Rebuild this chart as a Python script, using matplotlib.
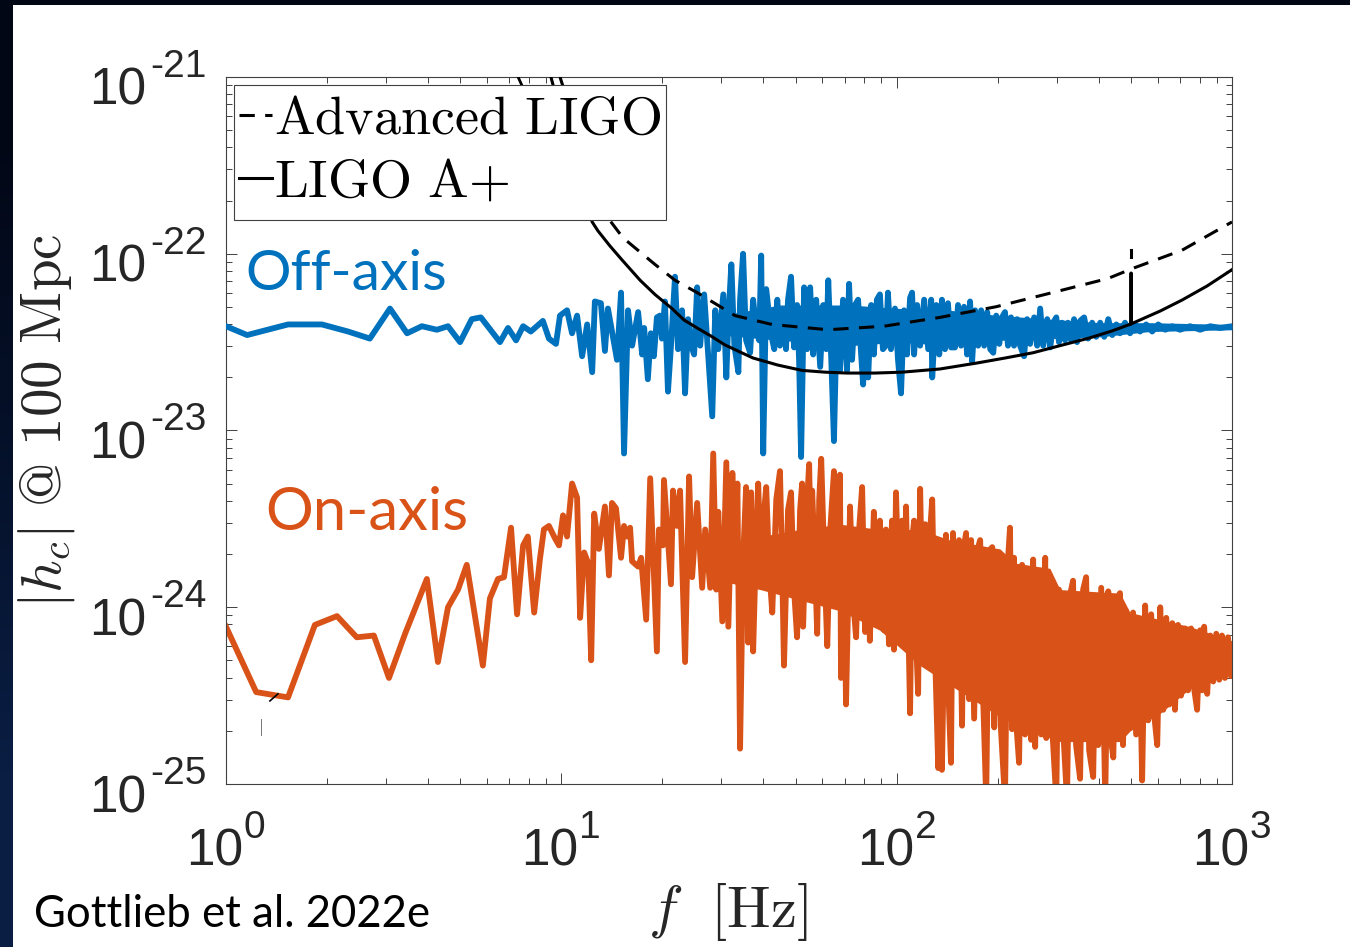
import matplotlib
matplotlib.use('Agg')
import matplotlib.pyplot as plt
from matplotlib.lines import Line2D
from matplotlib.patches import Rectangle
from matplotlib.ticker import LogLocator, NullFormatter
import numpy as np

# everything below is log10(f [Hz]) and log10(|h_c|)
off_logf = [
    0.000, 0.063, 0.185, 0.286, 0.364, 0.429, 0.489, 0.540, 0.584, 0.629,
    0.662, 0.698, 0.733, 0.760, 0.817, 0.841, 0.865, 0.886, 0.909, 0.945,
    0.963, 0.984, 0.996, 1.017, 1.032, 1.047, 1.062, 1.077, 1.092, 1.100,
    1.118, 1.130, 1.139, 1.166, 1.178, 1.187, 1.199, 1.211, 1.229, 1.241,
    1.247, 1.258, 1.267, 1.276, 1.285, 1.294, 1.300, 1.309, 1.318, 1.327,
    1.339, 1.348, 1.360, 1.369, 1.378, 1.387, 1.396, 1.405, 1.414, 1.426,
    1.435, 1.450, 1.459, 1.468, 1.483, 1.492, 1.498, 1.507, 1.516, 1.528,
    1.533, 1.542, 1.551, 1.563, 1.572, 1.581, 1.590, 1.596, 1.602, 1.611,
    1.626, 1.635, 1.644, 1.652, 1.661, 1.670, 1.676, 1.685, 1.694, 1.703,
    1.709, 1.715, 1.724, 1.733, 1.742, 1.751, 1.760, 1.772, 1.781, 1.790,
    1.796, 1.805, 1.813, 1.822, 1.831, 1.840, 1.852, 1.858, 1.867, 1.876,
    1.885, 1.894, 1.900, 1.909, 1.915, 1.924, 1.932, 1.941, 1.950, 1.959,
    1.968, 1.974, 1.983, 1.995, 2.004, 2.013, 2.022, 2.031, 2.040, 2.046,
    2.052, 2.061, 2.070, 2.082, 2.094, 2.103, 2.106, 2.118, 2.127, 2.135,
    2.144, 2.153, 2.162, 2.174, 2.183, 2.192, 2.201, 2.210, 2.219, 2.225,
    2.234, 2.243, 2.252, 2.261, 2.270, 2.279, 2.288, 2.297, 2.306, 2.314,
    2.323, 2.332, 2.341, 2.350, 2.359, 2.368, 2.380, 2.389, 2.398, 2.410,
    2.419, 2.428, 2.437, 2.449, 2.458, 2.467, 2.476, 2.484, 2.493, 2.502,
    2.511, 2.520, 2.529, 2.538, 2.547, 2.559, 2.571, 2.583, 2.595, 2.607,
    2.619, 2.631, 2.643, 2.655, 2.666, 2.681, 2.696, 2.711, 2.726, 2.744,
    2.762, 2.780, 2.801, 2.822, 2.845, 2.875, 2.905, 2.935, 2.964, 3.000,
]
off_logh = [
    -22.41, -22.46, -22.40, -22.40, -22.44, -22.48, -22.31, -22.45, -22.41, -22.43,
    -22.41, -22.50, -22.37, -22.36, -22.50, -22.42, -22.49, -22.41, -22.44, -22.38,
    -22.48, -22.51, -22.35, -22.32, -22.45, -22.35, -22.58, -22.40, -22.67, -22.27,
    -22.28, -22.55, -22.31, -22.60, -22.22, -23.13, -22.32, -22.52, -22.33, -22.57,
    -22.42, -22.71, -22.45, -22.58, -22.36, -22.35, -22.48, -22.27, -22.78, -22.52,
    -22.13, -22.54, -22.32, -22.79, -22.37, -22.52, -22.57, -22.19, -22.52, -22.23,
    -22.49, -22.92, -22.32, -22.54, -22.23, -22.70, -22.37, -22.06, -22.52, -22.67,
    -22.26, -22.00, -22.49, -22.56, -22.26, -22.43, -22.49, -22.01, -23.13, -22.20,
    -22.46, -22.54, -22.26, -22.52, -22.32, -22.54, -22.26, -22.13, -22.53, -22.29,
    -22.60, -23.15, -22.19, -22.54, -22.19, -22.57, -22.26, -22.64, -22.29, -22.54,
    -22.15, -22.60, -23.06, -22.32, -22.66, -22.26, -22.66, -22.17, -22.60, -22.29,
    -22.26, -22.57, -22.74, -22.32, -22.70, -22.29, -22.57, -22.26, -22.23, -22.54,
    -22.52, -22.22, -22.54, -22.31, -22.60, -22.79, -22.32, -22.57, -22.25, -22.22,
    -22.57, -22.29, -22.52, -22.26, -22.54, -22.26, -22.70, -22.29, -22.57, -22.26,
    -22.54, -22.28, -22.53, -22.53, -22.29, -22.52, -22.30, -22.57, -22.27, -22.61,
    -22.32, -22.52, -22.32, -22.52, -22.33, -22.54, -22.56, -22.35, -22.51, -22.36,
    -22.33, -22.52, -22.36, -22.52, -22.37, -22.52, -22.58, -22.37, -22.51, -22.36,
    -22.52, -22.31, -22.52, -22.37, -22.53, -22.39, -22.36, -22.50, -22.39, -22.49,
    -22.39, -22.49, -22.37, -22.50, -22.38, -22.36, -22.48, -22.39, -22.47, -22.39,
    -22.47, -22.37, -22.46, -22.40, -22.45, -22.39, -22.45, -22.40, -22.44, -22.40,
    -22.44, -22.40, -22.43, -22.41, -22.43, -22.41, -22.43, -22.41, -22.42, -22.41,
]
# where the blue samples are too dense to tell apart
off_band_logf = [1.473, 1.652, 1.861, 2.010, 2.159, 2.308, 2.457, 2.607, 2.755, 3.000]
off_band_hi = [-22.35, -22.29, -22.29, -22.31, -22.32, -22.35, -22.37, -22.39, -22.39, -22.40]
off_band_lo = [-22.46, -22.49, -22.52, -22.50, -22.52, -22.49, -22.48, -22.47, -22.44, -22.43]

on_logf = [
    0.000, 0.090, 0.185, 0.265, 0.331, 0.390, 0.441, 0.486, 0.534, 0.599,
    0.632, 0.662, 0.692, 0.718, 0.766, 0.787, 0.811, 0.829, 0.850, 0.868,
    0.886, 0.900, 0.919, 0.936, 0.948, 0.963, 0.981, 0.993, 1.005, 1.017,
    1.032, 1.047, 1.056, 1.068, 1.080, 1.089, 1.098, 1.112, 1.130, 1.142,
    1.151, 1.163, 1.178, 1.187, 1.196, 1.205, 1.211, 1.229, 1.238, 1.253,
    1.265, 1.285, 1.291, 1.303, 1.306, 1.327, 1.333,
    1.345, 1.354, 1.369, 1.381, 1.390, 1.405, 1.420, 1.429, 1.444, 1.453,
    1.462, 1.468, 1.480, 1.492, 1.498, 1.510, 1.519, 1.525, 1.533, 1.542,
    1.551, 1.557, 1.566, 1.572, 1.581, 1.587, 1.596, 1.605, 1.611, 1.620,
    1.629, 1.641, 1.652, 1.658, 1.664, 1.676, 1.685, 1.694, 1.703, 1.712,
    1.718, 1.721, 1.730, 1.739, 1.745, 1.748, 1.757, 1.763, 1.769, 1.775,
    1.784, 1.793, 1.802, 1.813, 1.822, 1.831, 1.834, 1.843, 1.849, 1.861,
    1.870, 1.879, 1.888, 1.897, 1.906, 1.914, 1.920, 1.932, 1.941, 1.950,
    1.962, 1.968, 1.977, 1.986, 1.992, 1.998, 2.007, 2.016, 2.022, 2.028,
    2.040, 2.046, 2.052, 2.058, 2.064, 2.070, 2.079, 2.085, 2.094, 2.100,
    2.106, 2.115, 2.124, 2.129, 2.135, 2.147, 2.153, 2.162, 2.168, 2.177,
    2.186, 2.195, 2.201, 2.207, 2.216, 2.222, 2.231, 2.240, 2.249, 2.258,
    2.267, 2.276, 2.285, 2.291, 2.300, 2.311, 2.323, 2.332, 2.338, 2.344,
    2.350, 2.356, 2.365, 2.374, 2.383, 2.392, 2.401, 2.407, 2.413, 2.422,
    2.431, 2.443, 2.446, 2.455, 2.464, 2.476, 2.484, 2.499, 2.508, 2.517,
    2.526, 2.535, 2.547, 2.556, 2.565, 2.574, 2.586, 2.595, 2.601, 2.610,
    2.622, 2.631, 2.637, 2.646, 2.655, 2.666, 2.675, 2.684, 2.693, 2.705,
    2.714, 2.723, 2.732, 2.741, 2.750, 2.759, 2.768, 2.777, 2.786, 2.795,
    2.804, 2.813, 2.822, 2.830, 2.839, 2.848, 2.860, 2.869, 2.878, 2.887,
    2.896, 2.905, 2.911, 2.917, 2.926, 2.935, 2.944, 2.953, 2.962, 2.970,
    2.979, 2.988, 2.997, 3.000,
]
on_logh = [
    -24.11, -24.48, -24.51, -24.10, -24.05, -24.17, -24.16, -24.40, -24.15, -23.84,
    -24.31, -24.00, -23.90, -23.76, -24.33, -23.95, -23.84, -23.83, -23.55, -24.04,
    -23.65, -23.60, -24.03, -23.73, -23.56, -23.54, -23.61, -23.65, -23.48, -23.60,
    -23.30, -23.38, -24.06, -23.69, -23.75, -24.30, -23.47, -23.67, -23.43, -23.82,
    -23.41, -23.44, -23.72, -23.54, -23.60, -23.55, -23.74, -23.77, -23.72, -24.07,
    -23.27, -24.25, -23.56, -23.65, -23.28, -23.87, -23.34,
    -23.54, -23.34, -24.31, -23.26, -23.83, -23.41, -23.89, -23.56, -23.89, -23.13,
    -23.90, -23.46, -24.08, -23.18, -24.11, -23.24, -23.73, -23.30, -24.80, -23.73,
    -23.32, -24.20, -23.35, -24.25, -23.62, -23.30, -23.83, -23.45, -23.32, -23.79,
    -24.03, -23.39, -23.23, -23.73, -24.33, -23.45, -23.35, -23.90, -24.17, -23.45,
    -23.30, -24.11, -23.51, -23.19, -23.81, -23.34, -23.79, -24.15, -23.39, -23.16,
    -23.73, -24.22, -23.56, -23.23, -23.96, -23.25, -24.40, -23.73, -24.55, -23.43,
    -23.96, -24.17, -23.56, -23.32, -24.14, -23.62, -24.19, -23.46, -23.92, -23.51,
    -24.13, -23.56, -24.21, -23.51, -24.24, -23.35, -23.96, -23.51, -24.19, -23.43,
    -24.60, -23.62, -23.51, -24.19, -24.49, -23.33, -24.19, -23.53, -24.32, -23.56,
    -23.39, -24.30, -24.91, -23.68, -24.92, -23.59, -24.41, -24.88, -23.58, -24.41,
    -23.62, -24.67, -23.65, -23.58, -24.52, -23.62, -24.63, -23.68, -23.62, -24.52,
    -25.09, -23.68, -23.66, -24.68, -23.73, -24.69, -25.09, -23.73, -23.55, -24.69,
    -23.72, -24.64, -24.88, -23.76, -24.72, -23.82, -24.75, -23.73, -24.79, -23.85,
    -24.72, -23.72, -24.74, -23.90, -24.69, -25.09, -23.90, -24.78, -25.09, -23.93,
    -23.85, -24.78, -24.97, -23.90, -23.83, -24.81, -24.96, -23.96, -24.78, -23.89,
    -25.09, -23.91, -24.72, -24.85, -23.96, -23.92, -24.78, -24.02, -24.64, -24.03,
    -24.72, -24.07, -24.98, -23.99, -24.64, -24.04, -24.61, -24.78, -24.00, -24.58,
    -24.06, -24.55, -24.09, -24.58, -24.10, -24.50, -24.12, -24.47, -24.12, -24.46,
    -24.58, -24.13, -24.47, -24.11, -24.49, -24.16, -24.42, -24.15, -24.41, -24.16,
    -24.40, -24.17, -24.39, -24.27,
]
# same for the orange samples
on_band_logf = [1.473, 1.593, 1.712, 1.831, 1.950, 2.070, 2.159, 2.308, 2.353, 2.457, 2.487, 2.666, 2.696,
                2.786, 2.875, 3.000]
on_band_hi = [-23.70, -23.60, -23.56, -23.53, -23.56, -23.56, -23.62, -23.67, -23.75, -23.78, -23.90, -23.92, -24.03,
              -24.07, -24.11, -24.19]
on_band_lo = [-23.85, -23.90, -23.96, -24.02, -24.13, -24.33, -24.44, -24.62, -24.66, -24.74, -24.76, -24.76, -24.70,
              -24.60, -24.46, -24.37]

aligo_logf = [0.996, 1.065, 1.124, 1.184, 1.279, 1.339, 1.405, 1.518, 1.628, 1.795,
              1.962, 2.129, 2.296, 2.464, 2.630, 2.708, 2.851, 3.000]
aligo_logh = [-21.00, -21.41, -21.76, -21.91, -22.06, -22.15, -22.22, -22.35, -22.40, -22.43,
              -22.41, -22.36, -22.30, -22.22, -22.14, -22.08, -21.98, -21.82]
aplus_logf = [0.969, 1.026, 1.092, 1.109, 1.145, 1.181, 1.235, 1.279, 1.330, 1.366, 1.405, 1.450,
              1.488, 1.533, 1.572, 1.646, 1.718, 1.787, 1.852, 1.935, 2.016, 2.129, 2.240, 2.323,
              2.407, 2.487, 2.574, 2.642, 2.699, 2.699, 2.699, 2.786, 2.851, 2.926, 3.000]
aplus_logh = [-21.00, -21.41, -21.82, -21.87, -21.956, -22.035, -22.15, -22.23, -22.31, -22.375, -22.42, -22.47,
              -22.516, -22.556, -22.59, -22.63, -22.66, -22.67, -22.675, -22.675, -22.67, -22.652, -22.618, -22.59,
              -22.56, -22.52, -22.477, -22.437, -22.397, -22.11, -22.397, -22.324, -22.262, -22.182, -22.09]
# short black bits that poke out elsewhere in the original
spike_logf = [2.699, 2.699]
spike_logh = [-22.02, -21.98]
stray_a_logf = [0.871, 0.883]
stray_a_logh = [-21.00, -21.05]
stray_b_logf = [0.131, 0.155]
stray_b_logh = [-24.53, -24.49]
stray_c_logf = [0.105, 0.105]
stray_c_logh = [-24.63, -24.72]

x_ticks = [1, 10, 100, 1000]
x_exps = ['0', '1', '2', '3']
y_ticks = [1e-21, 1e-22, 1e-23, 1e-24, 1e-25]
y_exps = ['-21', '-22', '-23', '-24', '-25']

BLUE = '#0072BD'
ORANGE = '#D95319'
DARK = '#262626'
SANS = 'Liberation Sans'
GILL = 'Lato'

plt.rcParams['mathtext.fontset'] = 'cm'

W, H = 1350, 947
fig = plt.figure(figsize=(W / 100, H / 100), dpi=100)

# dark slide behind the white panel
bg = fig.add_axes([0, 0, 1, 1], zorder=0)
bg.imshow(np.array([[0.01, 0.03, 0.09], [0.02, 0.07, 0.17], [0.04, 0.12, 0.27]]).reshape(3, 1, 3),
          aspect='auto', interpolation='bilinear', extent=[0, 1, 0, 1])
bg.axis('off')
bg.add_patch(Rectangle((13 / W, 0), 1 - 13 / W, 1 - 5 / H, facecolor='white', edgecolor='none'))

ax = fig.add_axes([226 / W, (H - 784) / H, 1006 / W, 707 / H], zorder=1)
ax.patch.set_alpha(0)
ax.set_xscale('log')
ax.set_yscale('log')


def show(logf, logh, **kw):
    return ax.plot(10.0 ** np.array(logf), 10.0 ** np.array(logh), **kw)


def band(logf, lo, hi, color, z):
    ax.fill_between(10.0 ** np.array(logf), 10.0 ** np.array(lo), 10.0 ** np.array(hi),
                    color=color, lw=0, zorder=z)


LW = 4.2
show(on_logf, on_logh, color=ORANGE, lw=LW, solid_joinstyle='round', zorder=2)
band(on_band_logf, on_band_lo, on_band_hi, ORANGE, 2)
show(off_logf, off_logh, color=BLUE, lw=LW, solid_joinstyle='round', zorder=3)
band(off_band_logf, off_band_lo, off_band_hi, BLUE, 3)
dash = (5.0, 3.4)
show(aligo_logf, aligo_logh, color='k', lw=2.2, ls=(0, dash), zorder=4)
show(aplus_logf, aplus_logh, color='k', lw=2.2, zorder=4)
show(spike_logf, spike_logh, color='k', lw=2.2, zorder=4)
show(stray_a_logf, stray_a_logh, color='k', lw=2.0, zorder=4)
show(stray_b_logf, stray_b_logh, color='k', lw=1.2, zorder=4)
show(stray_c_logf, stray_c_logh, color='#777777', lw=0.7, zorder=4)

ax.set_xlim(1, 1000)
ax.set_ylim(1e-25, 1e-21)
ax.xaxis.set_major_locator(LogLocator(base=10, numticks=10))
ax.yaxis.set_major_locator(LogLocator(base=10, numticks=10))
ax.xaxis.set_minor_locator(LogLocator(base=10, subs=range(2, 10), numticks=20))
ax.yaxis.set_minor_locator(LogLocator(base=10, subs=range(2, 10), numticks=20))
ax.xaxis.set_minor_formatter(NullFormatter())
ax.yaxis.set_minor_formatter(NullFormatter())
ax.tick_params(which='both', direction='in', top=True, right=True, labelbottom=False,
               labelleft=False, color='#404040', width=0.7)
ax.tick_params(which='major', length=8)
ax.tick_params(which='minor', length=4)
for s in ax.spines.values():
    s.set_color('#404040')
    s.set_linewidth(0.8)

# 10 and its exponent are set apart, the way the original has them
for t, e in zip(x_ticks, x_exps):
    ax.annotate('10', xy=(t, 0), xycoords=ax.get_xaxis_transform(), xytext=(-40, -81),
                textcoords='offset pixels', fontsize=37, family=SANS, color=DARK, ha='left', va='baseline')
    ax.annotate(e, xy=(t, 0), xycoords=ax.get_xaxis_transform(), xytext=(18, -54),
                textcoords='offset pixels', fontsize=28, family=SANS, color=DARK, ha='left', va='baseline')
for t, e in zip(y_ticks, y_exps):
    ax.annotate('10', xy=(0, t), xycoords=ax.get_yaxis_transform(), xytext=(-137, -28),
                textcoords='offset pixels', fontsize=37, family=SANS, color=DARK, ha='left', va='baseline')
    ax.annotate(e, xy=(0, t), xycoords=ax.get_yaxis_transform(), xytext=(-76, 0),
                textcoords='offset pixels', fontsize=28, family=SANS, color=DARK, ha='left', va='baseline')

ax.set_ylabel(r'$|h_c|\ @\ 100\ \mathrm{Mpc}$', fontsize=41, color=DARK, va='center', ha='center')
ax.yaxis.set_label_coords(-0.178, 0.513)
ax.set_xlabel(r'$f\ \ [\mathrm{Hz}]$', fontsize=42, color=DARK, va='center', ha='center')
ax.xaxis.set_label_coords(0.499, -0.181)

ax.text(1.145, 6.2e-23, 'Off-axis', color=BLUE, family=GILL, fontsize=41, zorder=6)
ax.text(1.305, 2.73e-24, 'On-axis', color=ORANGE, family=GILL, fontsize=43, zorder=6)
fig.text(34 / W, 1 - 927 / H, 'Gottlieb et al. 2022e', color='k', family=GILL, fontsize=31.5)

# frame drawn apart from the legend so its padding can differ per side
ax.add_patch(Rectangle((8 / 1006, 1 - 143 / 707), 432 / 1006, 135 / 707, transform=ax.transAxes,
                       facecolor='white', edgecolor='#404040', lw=0.8, zorder=6.5))
handles = [Line2D([], [], color='k', lw=2.2, ls=(0, dash)), Line2D([], [], color='k', lw=2.2)]
leg = ax.legend(handles, [r'$\mathrm{Advanced\ LIGO}$', r'$\mathrm{LIGO\ A}{+}$'], loc='upper left',
                bbox_to_anchor=(13 / 1006, 1 - 16 / 707), borderaxespad=0, fontsize=39, frameon=False,
                handlelength=0.6, handletextpad=0.05, borderpad=0, labelspacing=0.2)
leg.set_zorder(7)

plt.savefig('out.png', dpi=100)
